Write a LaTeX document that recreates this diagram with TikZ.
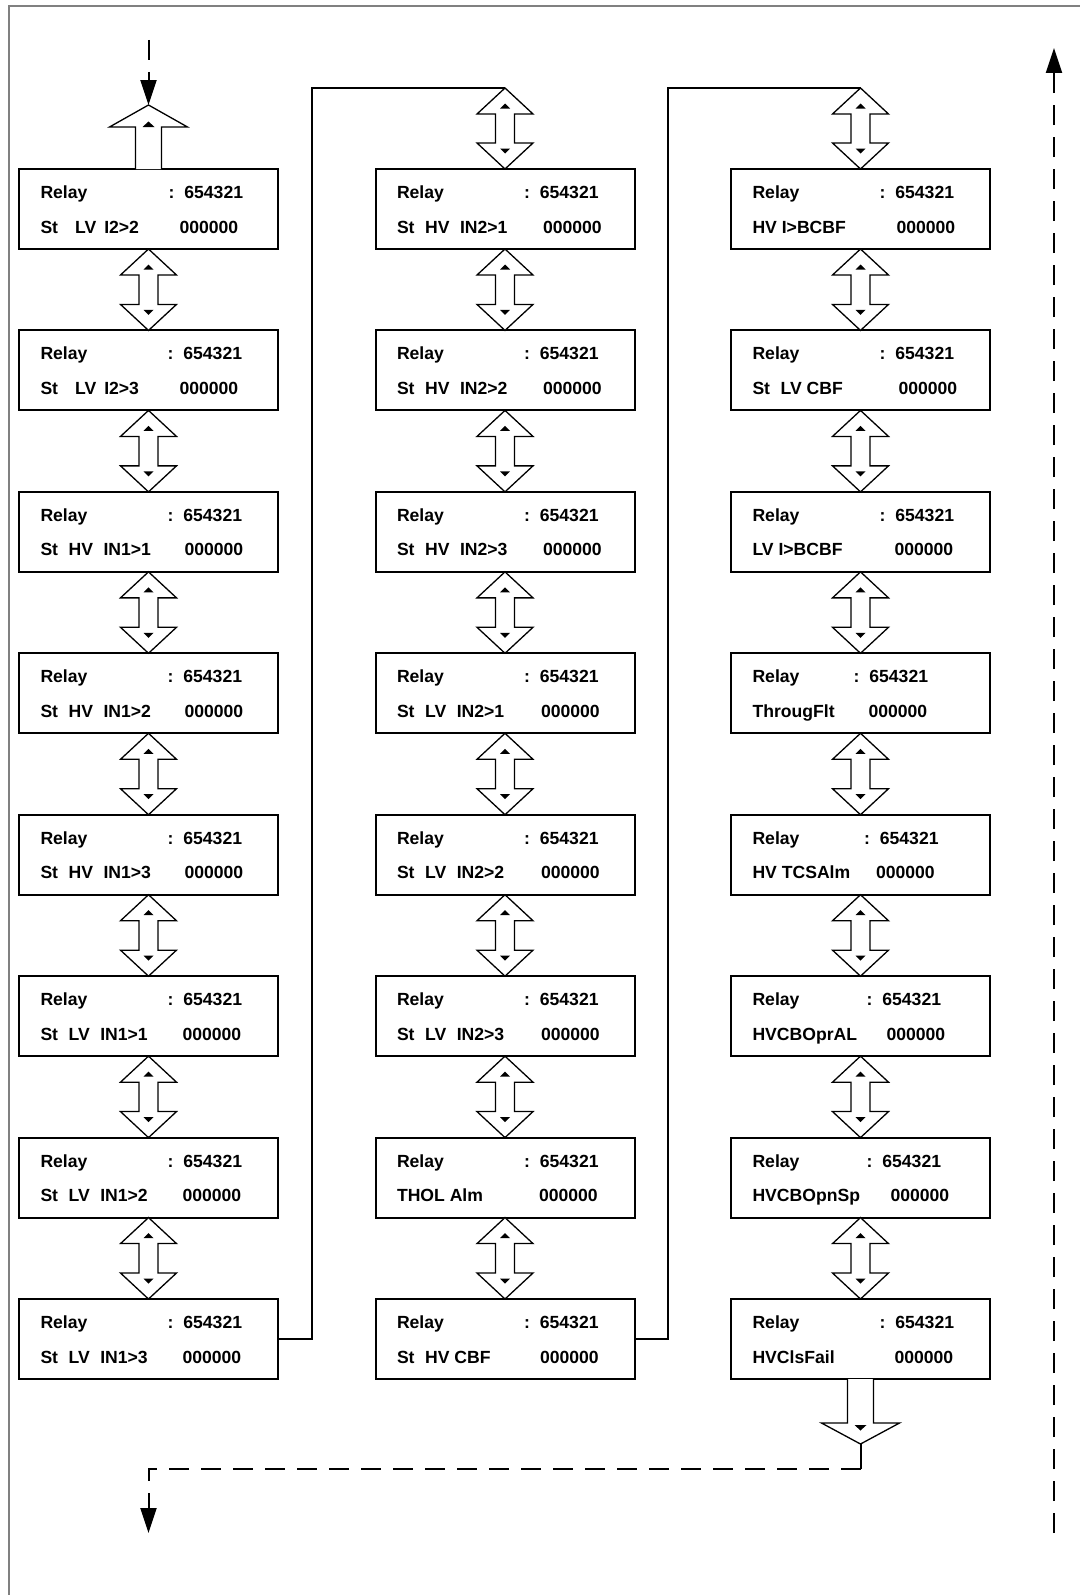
\documentclass[tikz,border=0pt]{standalone}
\usepackage{fontspec}
\setmainfont{Liberation Sans}
\usetikzlibrary{arrows.meta}
\tikzset{
 rbox/.style={draw, line width=2pt, minimum width=259pt, minimum height=80pt, inner sep=0pt, fill=white},
 rtxt/.style={anchor=base west, inner sep=0pt, font=\fontsize{17.6}{20}\selectfont\bfseries},
 darr/.style={draw, line width=1.3pt, fill=white, line join=miter},
 dsh/.style={line width=2pt, dash pattern=on 20pt off 12pt},
 conn/.style={line width=2pt},
 framestyle/.style={draw=gray, line width=2pt},
 bigtip/.style={-{Triangle[length=25pt,width=16pt]}}
}
\newcommand\gp[1]{\hspace{#1pt}}
\newcommand\relaybox[6]{%
 \node[rbox] (#1) at ({#2+129.5},{#3+40}) {};
 \node[rtxt] (#1r) at ({#2+21.3},{#3+29.5}) {Relay};
 \node[rtxt] (#1c) at ({#2+#5-1.7},{#3+29.5}) {:\hspace{10pt}654321};
 \node[rtxt] (#1l) at ({#2+21.3},{#3+64}) {#4};
 \node[rtxt] (#1z) at ({#2+#6-0.7},{#3+64}) {000000};
}
\newcommand\dbl[3]{%
 \draw[darr] (#1,#2) -- ({#1+28},{#2+26}) -- ({#1+9.5},{#2+26}) -- ({#1+9.5},{#3-26}) -- ({#1+28},{#3-26}) -- (#1,#3) -- ({#1-28},{#3-26}) -- ({#1-9.5},{#3-26}) -- ({#1-9.5},{#2+26}) -- ({#1-28},{#2+26}) -- cycle;
 \fill (#1,{#2+15.5}) -- ({#1+5},{#2+20.5}) -- ({#1-5},{#2+20.5}) -- cycle;
 \fill (#1,{#3-15.5}) -- ({#1+5},{#3-20.5}) -- ({#1-5},{#3-20.5}) -- cycle;
}
\begin{document}
\begin{tikzpicture}[x=1pt,y=-1pt]
\useasboundingbox[fill=white] (0,0) rectangle (1079,1595);
\draw[framestyle] (9,1597) -- (9,6) -- (1081,6);

% column 1
\relaybox{a1}{19}{169}{St\gp{17}LV\gp{8}I2>2}{151}{161}
\relaybox{a2}{19}{330.43}{St\gp{17}LV\gp{8}I2>3}{150}{161}
\relaybox{a3}{19}{491.86}{St\gp{10.5}HV\gp{10.5}IN1>1}{150}{166}
\relaybox{a4}{19}{653.29}{St\gp{10.5}HV\gp{10.5}IN1>2}{150}{166}
\relaybox{a5}{19}{814.71}{St\gp{10.5}HV\gp{10.5}IN1>3}{150}{166}
\relaybox{a6}{19}{976.14}{St\gp{10.5}LV\gp{10.5}IN1>1}{150}{164}
\relaybox{a7}{19}{1137.57}{St\gp{10.5}LV\gp{10.5}IN1>2}{150}{164}
\relaybox{a8}{19}{1299}{St\gp{10.5}LV\gp{10.5}IN1>3}{150}{164}
% column 2
\relaybox{b1}{375.5}{169}{St\gp{10.5}HV\gp{10.5}IN2>1}{150}{168}
\relaybox{b2}{375.5}{330.43}{St\gp{10.5}HV\gp{10.5}IN2>2}{150}{168}
\relaybox{b3}{375.5}{491.86}{St\gp{10.5}HV\gp{10.5}IN2>3}{150}{168}
\relaybox{b4}{375.5}{653.29}{St\gp{10.5}LV\gp{10.5}IN2>1}{150}{166}
\relaybox{b5}{375.5}{814.71}{St\gp{10.5}LV\gp{10.5}IN2>2}{150}{166}
\relaybox{b6}{375.5}{976.14}{St\gp{10.5}LV\gp{10.5}IN2>3}{150}{166}
\relaybox{b7}{375.5}{1137.57}{THOL Alm}{150}{164}
\relaybox{b8}{375.5}{1299}{St\gp{10.5}HV CBF}{150}{165}
% column 3
\relaybox{c1}{731}{169}{HV I>BCBF}{150}{166}
\relaybox{c2}{731}{330.43}{St\gp{10.5}LV CBF}{150}{168}
\relaybox{c3}{731}{491.86}{LV I>BCBF}{150}{164}
\relaybox{c4}{731}{653.29}{ThrougFlt}{124}{138}
\relaybox{c5}{731}{814.71}{HV TCSAlm}{134.5}{145.5}
\relaybox{c6}{731}{976.14}{HVCBOprAL}{137}{156}
\relaybox{c7}{731}{1137.57}{HVCBOpnSp}{137}{160}
\relaybox{c8}{731}{1299}{HVClsFail}{150}{164}

% double arrows between boxes
\foreach \cx in {148.5,505,860.5}{
  \foreach \i in {0,...,6}{
    \pgfmathsetmacro\ya{169+161.43*\i+80}
    \pgfmathsetmacro\yb{169+161.43*(\i+1)}
    \dbl{\cx}{\ya}{\yb}
  }
}
\dbl{505}{88}{169}
\dbl{860.5}{88}{169}

% column connectors
\coordinate (t2) at (505,88);
\coordinate (t3) at (860.5,88);
\draw[conn] (a8.east) -- ++(32.5,0) |- (t2);
\draw[conn] (b8.east) -- ++(32.5,0) |- (t3);

% entry arrow
\draw[darr] (135.5,169) -- (135.5,127) -- (109.5,127) -- (148.5,105) -- (187.5,127) -- (161.5,127) -- (161.5,169);
\fill (148.5,121.5) -- (154.5,127) -- (142.5,127) -- cycle;
\coordinate (in0) at (148.5,40);
\coordinate (in1) at (148.5,105);
\draw[dsh,bigtip] (in0) -- (in1);

% exit arrow
\draw[darr] (847.5,1379) -- (847.5,1423) -- (821.5,1423) -- (860.5,1444) -- (899.5,1423) -- (873.5,1423) -- (873.5,1379);
\fill (860.5,1430.5) -- (866.5,1425) -- (854.5,1425) -- cycle;
\coordinate (ex0) at (860.5,1444);
\coordinate (ex1) at (860.5,1469);
\coordinate (ex2) at (148.5,1533);
\draw[conn] (ex0) -- (ex1);
\draw[dsh,bigtip] (ex1) -| (ex2);

% return line
\coordinate (r0) at (1054,1533);
\coordinate (r1) at (1054,48);
\draw[dsh,bigtip] (r0) -- (r1);
\end{tikzpicture}
\end{document}
